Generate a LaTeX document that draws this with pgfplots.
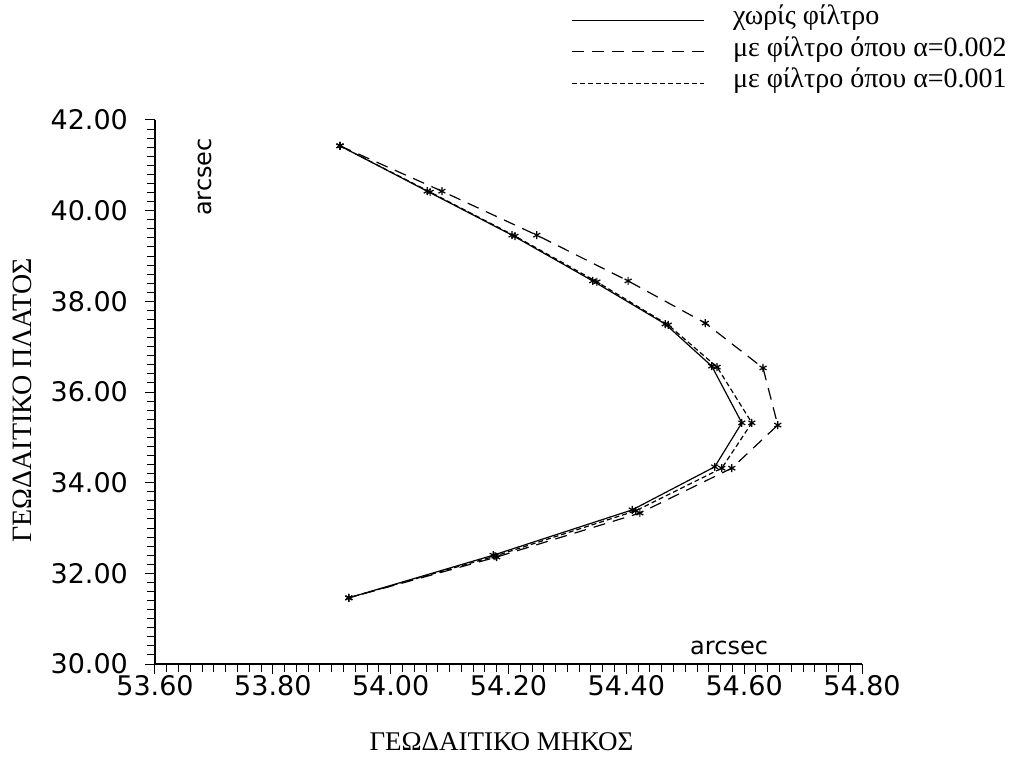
\documentclass[border=0pt]{standalone}
\usepackage{fontspec}
\usepackage{pgfplots}
\pgfplotsset{compat=1.18}
\setmainfont{Liberation Serif}
\newfontfamily\plotfont{DejaVu Sans}
\begin{document}
\begin{tikzpicture}[x=0.5pt,y=0.5pt]
\path[use as bounding box] (-155,-108) rectangle (866,664);
\begin{axis}[
  at={(0,0)}, anchor=south west,
  scale only axis, width=353.5pt, height=272pt,
  xmin=53.6, xmax=54.8, ymin=30, ymax=42,
  axis lines=left, axis line style={-, line width=0.6pt},
  xtick={53.6,53.8,54.0,54.2,54.4,54.6,54.8},
  ytick={30,32,34,36,38,40,42},
  minor x tick num=9, minor y tick num=9,
  tick align=outside,
  major tick length=5pt, minor tick length=4pt,
  tick style={line width=0.5pt, black},
  /pgf/number format/.cd, fixed, fixed zerofill, precision=2, assume math mode=true,
  /pgfplots/.cd,
  ticklabel style={font=\plotfont\fontsize{13.5}{15}\selectfont},
  xticklabel style={yshift=3pt},
  yticklabel style={xshift=-5pt},
  xlabel={ΓΕΩΔΑΙΤΙΚΟ ΜΗΚΟΣ},
  ylabel={ΓΕΩΔΑΙΤΙΚΟ ΠΛΑΤΟΣ},
  xlabel style={font=\fontsize{13.5}{15}\selectfont, at={(axis description cs:0.49,-0.143)}, anchor=center},
  ylabel style={font=\fontsize{14}{16}\selectfont, at={(axis description cs:-0.188,0.485)}, anchor=center, rotate=0},
  legend style={at={(axis description cs:0.589,1.216)}, anchor=north west,
    draw=none, fill=none, inner sep=0pt,
    font=\fontsize{14}{15}\selectfont,
    nodes={text height=9pt, text depth=2.5pt},
    row sep=0.25pt},
  legend cell align=left,
  legend image code/.code={\draw[#1] (0pt,-1pt) -- (66pt,-1pt);},
  /tikz/every odd column/.append style={column sep=12pt},
  clip=false,
]
\addplot[black, line width=0.6pt, mark=asterisk, mark size=2pt, mark options={solid}] coordinates {
(53.914,41.43) (54.062,40.43) (54.206,39.46) (54.343,38.45) (54.466,37.50)
(54.545,36.57) (54.596,35.32) (54.550,34.35) (54.410,33.40) (54.174,32.40) (53.929,31.46)};
\addlegendentry{χωρίς φίλτρο}
\addplot[black, line width=0.6pt, dash pattern=on 6pt off 4pt, mark=asterisk, mark size=2pt, mark options={solid}] coordinates {
(53.914,41.43) (54.087,40.43) (54.248,39.46) (54.403,38.45) (54.534,37.52)
(54.632,36.53) (54.657,35.27) (54.579,34.32) (54.423,33.33) (54.180,32.36) (53.929,31.46)};
\addlegendentry{με φίλτρο όπου α=0.002}
\addplot[black, line width=0.6pt, dash pattern=on 2.5pt off 1.5pt, mark=asterisk, mark size=2pt, mark options={solid}] coordinates {
(53.914,41.43) (54.067,40.41) (54.211,39.44) (54.350,38.43) (54.471,37.48)
(54.554,36.55) (54.613,35.32) (54.562,34.32) (54.416,33.38) (54.177,32.38) (53.929,31.46)};
\addlegendentry{με φίλτρο όπου α=0.001}
\node[font=\plotfont\fontsize{12}{14}\selectfont, rotate=90] at (rel axis cs:0.0707,0.895) {arcsec};
\node[font=\plotfont\fontsize{12}{14}\selectfont] at (rel axis cs:0.812,0.029) {arcsec};
\end{axis}
\end{tikzpicture}
\end{document}
